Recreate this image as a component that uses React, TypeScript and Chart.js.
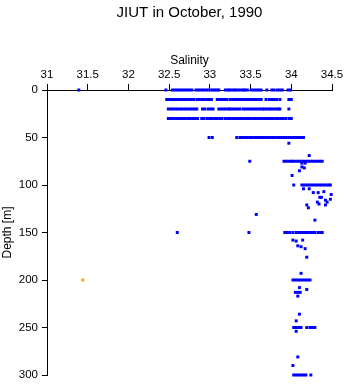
import React, { useEffect, useRef } from "react";
import { Chart, registerables } from "chart.js";

Chart.register(...registerables);

const titleText = "JIUT in October, 1990";
const xTitle = "Salinity";
const yTitle = "Depth [m]";

// salinity values along the dense sampling rows (depth in m as name)
const row0 = [31.39, 32.46, 32.54, 32.57, 32.6, 32.63, 32.66, 32.69, 32.72, 32.75, 32.78, 32.83, 32.86, 32.89, 32.92, 32.95, 32.98, 33.01, 33.04, 33.06, 33.09, 33.11, 33.19, 33.22, 33.24, 33.27, 33.3, 33.32, 33.35, 33.38, 33.41, 33.43, 33.46, 33.51, 33.54, 33.57, 33.6, 33.63, 33.7, 33.76, 33.79, 33.83, 33.86, 33.89, 33.96, 33.99];
const row10 = [32.47, 32.5, 32.53, 32.56, 32.59, 32.62, 32.65, 32.68, 32.71, 32.74, 32.77, 32.8, 32.84, 32.87, 32.9, 32.93, 32.96, 32.99, 33.02, 33.09, 33.12, 33.15, 33.18, 33.21, 33.25, 33.28, 33.31, 33.34, 33.37, 33.4, 33.43, 33.46, 33.48, 33.51, 33.54, 33.57, 33.6, 33.63, 33.69, 33.73, 33.76, 33.79, 33.82, 33.86, 33.97, 34.0];
const row20 = [32.49, 32.52, 32.55, 32.58, 32.61, 32.64, 32.67, 32.7, 32.73, 32.76, 32.79, 32.82, 32.84, 32.91, 32.94, 32.98, 33.01, 33.04, 33.11, 33.14, 33.17, 33.2, 33.23, 33.25, 33.28, 33.31, 33.34, 33.37, 33.41, 33.44, 33.47, 33.5, 33.53, 33.56, 33.59, 33.62, 33.65, 33.67, 33.7, 33.73, 33.75, 33.78, 33.81, 33.84, 33.86, 33.97];
const row30 = [32.49, 32.52, 32.55, 32.58, 32.61, 32.64, 32.67, 32.7, 32.73, 32.76, 32.79, 32.82, 32.85, 32.9, 32.93, 32.97, 33.0, 33.03, 33.06, 33.09, 33.12, 33.15, 33.19, 33.22, 33.25, 33.28, 33.31, 33.34, 33.37, 33.4, 33.43, 33.46, 33.48, 33.51, 33.54, 33.57, 33.6, 33.63, 33.66, 33.69, 33.72, 33.75, 33.78, 33.81, 33.84, 33.87, 33.9, 33.93, 33.97, 34.0];
const row50 = [32.99, 33.03, 33.33, 33.37, 33.4, 33.43, 33.46, 33.49, 33.52, 33.55, 33.58, 33.61, 33.64, 33.67, 33.7, 33.73, 33.76, 33.79, 33.82, 33.85, 33.88, 33.91, 33.94, 33.97, 34.0, 34.03, 34.06, 34.09, 34.12, 34.15];
const row75 = [33.49, 33.91, 33.94, 33.97, 34.0, 34.02, 34.05, 34.08, 34.11, 34.14, 34.17, 34.2, 34.23, 34.26, 34.29, 34.32, 34.35, 34.38];
const row100 = [34.03, 34.13, 34.16, 34.19, 34.22, 34.25, 34.28, 34.31, 34.34, 34.37, 34.4, 34.43, 34.46, 34.48];
const row150 = [32.6, 33.48, 33.92, 33.95, 33.98, 34.02, 34.06, 34.09, 34.12, 34.15, 34.18, 34.21, 34.24, 34.27, 34.29, 34.33, 34.36, 34.38];
const row200 = [34.02, 34.05, 34.08, 34.11, 34.14, 34.17, 34.2, 34.23];
const row250 = [34.03, 34.06, 34.09, 34.12, 34.19, 34.23, 34.26, 34.29];
const row300 = [34.03, 34.06, 34.09, 34.12, 34.15, 34.18, 34.24];

// isolated samples
const looseSal = [33.97, 34.22, 34.13, 34.17, 34.13, 34.16, 34.1, 34.01, 34.15, 34.22, 34.27, 34.33, 34.4, 34.49, 34.35, 34.37, 34.48, 34.32, 34.44, 34.42, 34.34, 34.42, 34.19, 34.21, 34.29, 33.57, 34.02, 34.06, 34.14, 34.08, 34.12, 34.17, 34.19, 34.12, 34.1, 34.05, 34.08, 34.11, 34.19, 34.08, 34.1, 34.06, 34.06, 34.08, 34.02];
const looseDepth = [56, 69, 77, 77, 81, 82, 85, 90, 104, 104, 108, 108, 107, 110, 113, 113, 115, 118, 118, 116, 120, 121, 121, 124, 137, 131, 158, 159, 158, 164, 165, 167, 176, 193, 208, 213, 213, 213, 210, 217, 236, 243, 254, 281, 290];

// flagged sample
const flagSal = [31.44];
const flagDepth = [200];

const rows: [number, number[]][] = [
  [0, row0], [10, row10], [20, row20], [30, row30], [50, row50], [75, row75],
  [100, row100], [150, row150], [200, row200], [250, row250], [300, row300],
];

const FONT = "'Liberation Sans', Arial, sans-serif";

export default function App() {
  const ref = useRef<HTMLCanvasElement | null>(null);
  useEffect(() => {
    if (!ref.current) return;
    const blue: { x: number; y: number }[] = [];
    rows.forEach(([d, arr]) => arr.forEach((s) => blue.push({ x: s, y: d })));
    looseSal.forEach((s, i) => blue.push({ x: s, y: looseDepth[i] }));
    const orange = flagSal.map((s, i) => ({ x: s, y: flagDepth[i] }));
    Chart.defaults.color = "#000";
    const chart = new Chart(ref.current, {
      type: "scatter",
      data: {
        datasets: [
          { data: blue, backgroundColor: "#0000ff", borderWidth: 0, pointStyle: "rect", pointRadius: 2.1, clip: false as any },
          { data: orange, backgroundColor: "#ffa500", borderWidth: 0, pointStyle: "rect", pointRadius: 2.1, clip: false as any },
        ],
      },
      options: {
        animation: false,
        responsive: false,
        layout: { padding: { left: 0, right: 14, top: 0, bottom: 9 } },
        plugins: {
          legend: { display: false },
          tooltip: { enabled: false },
          title: {
            display: true,
            text: titleText,
            fullSize: false,
            color: "#000",
            font: { family: FONT, size: 15, weight: "normal" },
            padding: { top: 4, bottom: 0 },
          },
        },
        scales: {
          x: {
            type: "linear",
            position: "top",
            min: 31,
            max: 34.5,
            afterFit: (s: any) => { s.height = 68; },
            ticks: { stepSize: 0.5, padding: 2, color: "#000", font: { family: FONT, size: 11.5 }, callback: (v: any) => String(v) },
            grid: { drawOnChartArea: false, drawTicks: true, tickLength: 6, color: "#000" },
            border: { display: true, color: "#000", width: 1 },
            title: { display: true, text: xTitle, color: "#000", font: { family: FONT, size: 12 }, padding: { top: 31, bottom: 0 } },
          },
          y: {
            type: "linear",
            reverse: true,
            min: 0,
            max: 300,
            afterFit: (s: any) => { s.width = 47; s.paddingTop = 0; s.paddingBottom = 0; },
            ticks: { stepSize: 50, padding: 4, color: "#000", font: { family: FONT, size: 11.5 }, callback: (v: any) => String(v) },
            grid: { drawOnChartArea: false, drawTicks: true, tickLength: 5, color: "#000" },
            border: { display: true, color: "#000", width: 1 },
            title: { display: true, text: yTitle, color: "#000", font: { family: FONT, size: 12 }, padding: { top: 0, bottom: 0 } },
          },
        },
      },
    });
    return () => chart.destroy();
  }, []);
  return (
    <div style={{ position: "absolute", left: 0, top: 0, width: 346, height: 384, background: "#fff" }}>
      <canvas ref={ref} width={346} height={384} style={{ display: "block" }} />
    </div>
  );
}
